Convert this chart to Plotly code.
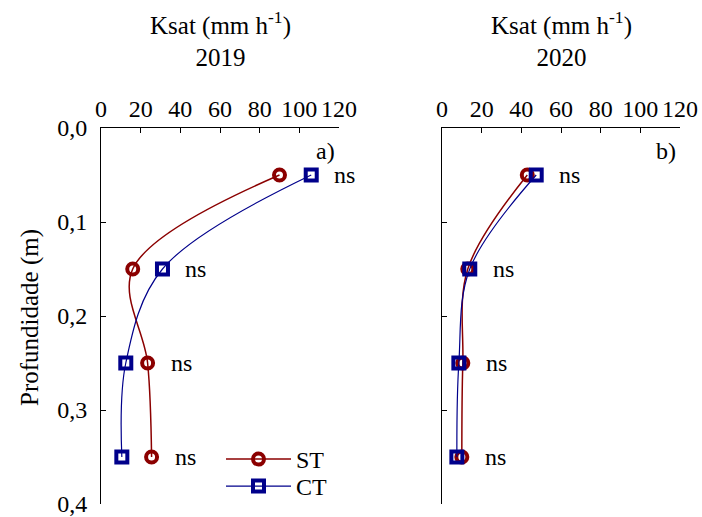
import plotly.graph_objects as go

depth = [0.05, 0.15, 0.25, 0.35]
st_2019 = [90, 16, 23.5, 25.5]
ct_2019 = [106, 31, 12.5, 10.5]
st_2020 = [43, 13, 10.5, 10]
ct_2020 = [47.5, 14, 8.5, 7.5]
x_ticks = [0, 20, 40, 60, 80, 100, 120]
y_ticks = [0.0, 0.1, 0.2, 0.3, 0.4]
y_tick_text = ["0,0", "0,1", "0,2", "0,3", "0,4"]
sig = ["ns", "ns", "ns", "ns"]

RED = "#8B0000"
BLUE = "#00008B"
FONT = "Liberation Serif, Times New Roman, serif"
FS = 24
FT = 25

fig = go.Figure()


def add_pair(st, ct, xa, ya, show):
    fig.add_trace(go.Scatter(
        x=st, y=depth, xaxis=xa, yaxis=ya, name="ST", showlegend=show, legend="legend",
        mode="lines+markers", line=dict(color=RED, width=1.5, shape="spline"),
        marker=dict(symbol="circle-open", size=11, color=RED, line=dict(width=4, color=RED)),
        cliponaxis=False,
    ))
    fig.add_trace(go.Scatter(
        x=ct, y=depth, xaxis=xa, yaxis=ya, name="CT", showlegend=show, legend="legend2",
        mode="lines+markers", line=dict(color=BLUE, width=1.2, shape="spline"),
        marker=dict(symbol="square-open", size=11, color=BLUE, line=dict(width=4, color=BLUE)),
        cliponaxis=False,
    ))


add_pair(st_2019, ct_2019, "x", "y", True)
add_pair(st_2020, ct_2020, "x2", "y2", False)

dom1 = [101 / 702, 339 / 702]
dom2 = [442 / 702, 680 / 702]
ydom = [1 - 504 / 517, 1 - 128 / 517]

xcommon = dict(range=[0, 120], side="top", tickvals=x_ticks, ticks="inside", ticklen=5,
               tickwidth=1, tickcolor="black", showline=True, linecolor="black", linewidth=1,
               showgrid=False, zeroline=False, tickangle=0, automargin=False,
               ticklabeloverflow="allow",
               tickfont=dict(family=FONT, size=FS, color="black"))
ycommon = dict(range=[0.4, 0], tickvals=y_ticks, ticks="inside", ticklen=5,
               tickwidth=1, tickcolor="black", showline=True, linecolor="black", linewidth=1,
               showgrid=False, zeroline=False, automargin=False,
               ticklabeloverflow="allow", ticklabelstandoff=8,
               tickfont=dict(family=FONT, size=FS, color="black"))

annotations = []
for xa, ya, st, ct, label, year, dom in [
    ("x", "y", st_2019, ct_2019, "a)", "2019", dom1),
    ("x2", "y2", st_2020, ct_2020, "b)", "2020", dom2),
]:
    for d, a, b, s in zip(depth, st, ct, sig):
        annotations.append(dict(x=max(a, b), y=d, xref=xa, yref=ya, text=s, showarrow=False,
                                xanchor="left", yanchor="middle", xshift=21,
                                font=dict(family=FONT, size=FS, color="black")))
    annotations.append(dict(x=120, y=0.024, xref=xa, yref=ya, text=label, showarrow=False,
                            xanchor="right", yanchor="middle", xshift=-2,
                            font=dict(family=FONT, size=FS, color="black")))
    annotations.append(dict(x=(dom[0] + dom[1]) / 2, y=1 - 39 / 517, xref="paper", yref="paper",
                            text="Ksat (mm h<sup>-1</sup>)<br>" + year, showarrow=False,
                            xanchor="center", yanchor="middle",
                            font=dict(family=FONT, size=FT, color="black")))

annotations.append(dict(x=30 / 702, y=1 - 318 / 517, xref="paper", yref="paper",
                        text="Profundidade (m)", textangle=-90, showarrow=False,
                        xanchor="center", yanchor="middle",
                        font=dict(family=FONT, size=FT, color="black")))

leg_common = dict(xanchor="left", yanchor="top", bgcolor="rgba(0,0,0,0)",
                  font=dict(family=FONT, size=FS, color="black"), itemwidth=65)

fig.update_layout(
    width=702, height=517,
    margin=dict(l=0, r=0, t=0, b=0, autoexpand=False),
    paper_bgcolor="white", plot_bgcolor="white",
    xaxis=dict(domain=dom1, anchor="y", **xcommon),
    yaxis=dict(domain=ydom, anchor="x", ticktext=y_tick_text, **ycommon),
    xaxis2=dict(domain=dom2, anchor="y2", **xcommon),
    yaxis2=dict(domain=ydom, anchor="x2", showticklabels=False, **ycommon),
    annotations=annotations,
    legend=dict(x=221 / 702, y=1 - 437 / 517, **leg_common),
    legend2=dict(x=221 / 702, y=1 - 464 / 517, **leg_common),
    showlegend=True,
)

fig.write_html("out.html")
